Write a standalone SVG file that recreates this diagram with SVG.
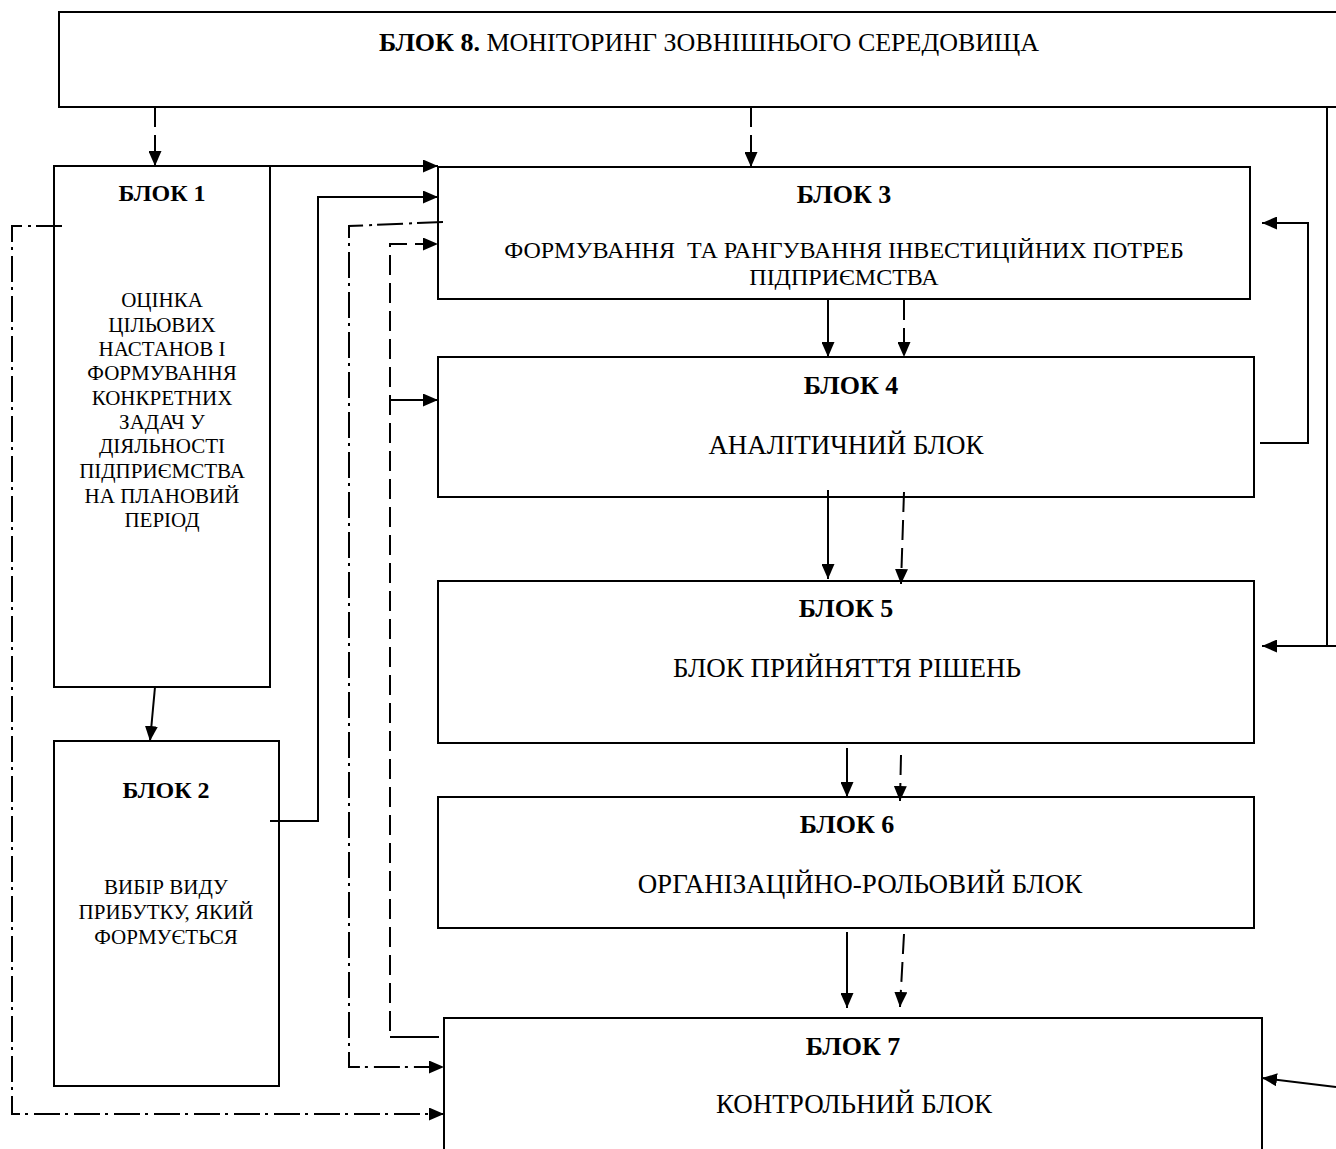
<svg xmlns="http://www.w3.org/2000/svg" width="1336" height="1149" viewBox="0 0 1336 1149">
  <style>
    .box { fill: #ffffff; stroke: #000000; stroke-width: 2; }
    .ln { fill: none; stroke: #000000; stroke-width: 2; }
    .dash { stroke-dasharray: 20 8; }
    .dashdot { stroke-dasharray: 26 5 3 6; }
    text { font-family: "Liberation Serif", "Times New Roman", serif; fill: #000000; text-anchor: middle; }
    .t { font-weight: bold; font-size: 26px; }
    .b { font-size: 27px; }
    .m { font-size: 24px; }
    .s { font-size: 21px; }
    .st { font-weight: bold; font-size: 24px; }
  </style>
  <defs>
    <marker id="arrow" markerUnits="userSpaceOnUse" markerWidth="15" markerHeight="13" refX="15" refY="6.5" orient="auto">
      <path d="M0,0 L15,6.5 L0,13 z" fill="#000000"/>
    </marker>
  </defs>

  <rect width="1336" height="1149" fill="#ffffff"/>

  <!-- nodes -->
  <g id="block8">
    <rect class="box" x="59" y="12" width="1290" height="95"/>
    <text x="709" y="51" font-size="26"><tspan font-weight="bold">БЛОК 8.</tspan> МОНІТОРИНГ ЗОВНІШНЬОГО СЕРЕДОВИЩА</text>
  </g>

  <g id="block1">
    <rect class="box" x="54" y="166" width="216" height="521"/>
    <text class="st" x="162" y="201">БЛОК 1</text>
    <text class="s" x="162" y="307">ОЦІНКА</text>
    <text class="s" x="162" y="332">ЦІЛЬОВИХ</text>
    <text class="s" x="162" y="356">НАСТАНОВ І</text>
    <text class="s" x="162" y="380">ФОРМУВАННЯ</text>
    <text class="s" x="162" y="405">КОНКРЕТНИХ</text>
    <text class="s" x="162" y="429">ЗАДАЧ У</text>
    <text class="s" x="162" y="453">ДІЯЛЬНОСТІ</text>
    <text class="s" x="162" y="478">ПІДПРИЄМСТВА</text>
    <text class="s" x="162" y="503">НА ПЛАНОВИЙ</text>
    <text class="s" x="162" y="527">ПЕРІОД</text>
  </g>

  <g id="block2">
    <rect class="box" x="54" y="741" width="225" height="345"/>
    <text class="st" x="166" y="798">БЛОК 2</text>
    <text class="s" x="166" y="894">ВИБІР ВИДУ</text>
    <text class="s" x="166" y="919">ПРИБУТКУ, ЯКИЙ</text>
    <text class="s" x="166" y="944">ФОРМУЄТЬСЯ</text>
  </g>

  <g id="block3">
    <rect class="box" x="438" y="167" width="812" height="132"/>
    <text class="t" x="844" y="203">БЛОК 3</text>
    <text class="m" x="844" y="258" xml:space="preserve">ФОРМУВАННЯ  ТА РАНГУВАННЯ ІНВЕСТИЦІЙНИХ ПОТРЕБ</text>
    <text class="m" x="844" y="285">ПІДПРИЄМСТВА</text>
  </g>

  <g id="block4">
    <rect class="box" x="438" y="357" width="816" height="140"/>
    <text class="t" x="851" y="394">БЛОК 4</text>
    <text class="b" x="846" y="454">АНАЛІТИЧНИЙ БЛОК</text>
  </g>

  <g id="block5">
    <rect class="box" x="438" y="581" width="816" height="162"/>
    <text class="t" x="846" y="617">БЛОК 5</text>
    <text class="b" x="847" y="677">БЛОК ПРИЙНЯТТЯ РІШЕНЬ</text>
  </g>

  <g id="block6">
    <rect class="box" x="438" y="797" width="816" height="131"/>
    <text class="t" x="847" y="833">БЛОК 6</text>
    <text class="b" x="860" y="893">ОРГАНІЗАЦІЙНО-РОЛЬОВИЙ БЛОК</text>
  </g>

  <g id="block7">
    <rect class="box" x="444" y="1018" width="818" height="150"/>
    <text class="t" x="853" y="1055">БЛОК 7</text>
    <text class="b" x="854" y="1113">КОНТРОЛЬНИЙ БЛОК</text>
  </g>

  <!-- connectors -->
  <g id="connectors">
    <!-- from block 8 -->
    <line class="ln dash" x1="155" y1="107" x2="155" y2="166" marker-end="url(#arrow)"/>
    <line class="ln dash" x1="751" y1="107" x2="751" y2="167" marker-end="url(#arrow)"/>
    <polyline class="ln" points="1327,107 1327,646 1262,646" marker-end="url(#arrow)"/>
    <line class="ln" x1="1327" y1="646" x2="1336" y2="646"/>

    <!-- block 1 / block 2 into block 3 -->
    <line class="ln" x1="270" y1="166" x2="438" y2="166" marker-end="url(#arrow)"/>
    <polyline class="ln" points="270,821 318,821 318,197 438,197" marker-end="url(#arrow)"/>

    <!-- feedback from block 3 down to block 7 -->
    <polyline class="ln dashdot" points="443,222 349,226 349,1067 444,1067" marker-end="url(#arrow)"/>
    <polyline class="ln dash" points="390,1031 390,244 438,244" marker-end="url(#arrow)"/>
    <line class="ln" x1="390" y1="400" x2="438" y2="400" marker-end="url(#arrow)"/>
    <line class="ln" x1="390" y1="1037" x2="439" y2="1037"/>

    <!-- block 1 to block 7 -->
    <polyline class="ln dashdot" points="62,226 12,226 12,1114 444,1114" marker-end="url(#arrow)"/>

    <!-- block 1 to block 2 -->
    <line class="ln" x1="155" y1="687" x2="150" y2="741" marker-end="url(#arrow)"/>

    <!-- block 3 to block 4 -->
    <line class="ln" x1="828" y1="300" x2="828" y2="357" marker-end="url(#arrow)"/>
    <line class="ln dash" x1="904" y1="300" x2="904" y2="357" marker-end="url(#arrow)"/>

    <!-- block 4 to block 5 -->
    <line class="ln" x1="828" y1="490" x2="828" y2="579" marker-end="url(#arrow)"/>
    <line class="ln dash" x1="904" y1="492" x2="901" y2="584" marker-end="url(#arrow)"/>

    <!-- block 4 back to block 3 -->
    <polyline class="ln" points="1260,443 1308,443 1308,223 1262,223" marker-end="url(#arrow)"/>

    <!-- block 5 to block 6 -->
    <line class="ln" x1="847" y1="748" x2="847" y2="797" marker-end="url(#arrow)"/>
    <line class="ln dash" x1="901" y1="755" x2="900" y2="801" marker-end="url(#arrow)"/>

    <!-- block 6 to block 7 -->
    <line class="ln" x1="847" y1="932" x2="847" y2="1008" marker-end="url(#arrow)"/>
    <line class="ln dash" x1="904" y1="934" x2="900" y2="1007" marker-end="url(#arrow)"/>

    <!-- into block 7 from the right -->
    <line class="ln" x1="1336" y1="1087" x2="1262" y2="1078" marker-end="url(#arrow)"/>
  </g>
</svg>
